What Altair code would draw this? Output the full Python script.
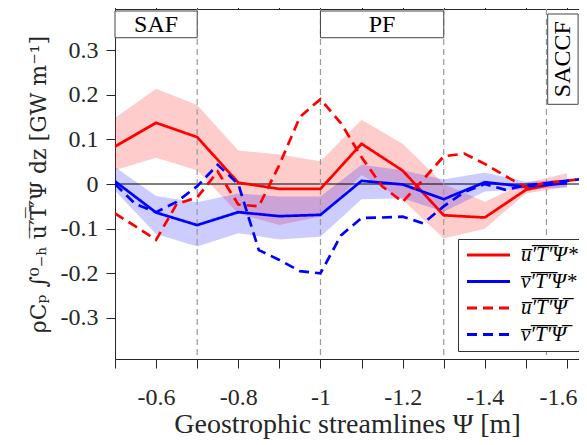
import altair as alt
import pandas as pd

# ---------------- data ----------------
psi = [-0.5, -0.6, -0.7, -0.8, -0.9, -1.0, -1.1, -1.2, -1.3, -1.4, -1.5, -1.6]
u_star = [0.084, 0.137, 0.105, 0.003, -0.011, -0.011, 0.090, 0.030, -0.070, -0.075, -0.013, 0.006]
u_star_hi = [0.148, 0.213, 0.177, 0.075, 0.066, 0.051, 0.144, 0.090, 0.000, -0.040, 0.003, 0.024]
u_star_lo = [0.031, 0.059, 0.031, -0.066, -0.092, -0.073, 0.020, -0.035, -0.122, -0.100, -0.021, -0.006]
v_star = [0.006, -0.064, -0.092, -0.063, -0.072, -0.069, 0.007, -0.001, -0.034, 0.004, -0.006, 0.002]
v_star_hi = [0.038, -0.027, -0.041, -0.021, -0.028, -0.028, 0.043, 0.031, 0.010, 0.026, 0.005, 0.010]
v_star_lo = [-0.015, -0.112, -0.140, -0.110, -0.124, -0.118, -0.034, -0.032, -0.062, -0.017, -0.012, -0.008]

psi_fine = [-0.5, -0.55, -0.6, -0.65, -0.7, -0.75, -0.8, -0.85, -0.9, -0.95, -1.0, -1.05,
            -1.1, -1.15, -1.2, -1.25, -1.3, -1.35, -1.4, -1.45, -1.5, -1.55, -1.6, -1.65]
u_bar = [-0.066, -0.095, -0.125, -0.045, -0.030, 0.028, -0.046, -0.050, 0.043, 0.150, 0.190, 0.136,
         0.060, -0.005, -0.040, 0.010, 0.062, 0.068, 0.045, 0.018, -0.008, 0.003, 0.007, 0.013]
v_bar = [0.000, -0.045, -0.063, -0.040, -0.005, 0.043, 0.000, -0.148, -0.170, -0.195, -0.200, -0.115,
         -0.076, -0.075, -0.073, -0.088, -0.050, -0.018, 0.000, -0.013, -0.003, 0.002, 0.007, 0.013]

series_names = ["u\u0305\u2032\u0305T\u0305\u2032\u0305\u03a8*",
                "v\u0305\u2032\u0305T\u0305\u2032\u0305\u03a8*",
                "u\u0305\u2032\u0305T\u0305\u2032\u0305\u03a8\u0305",
                "v\u0305\u2032\u0305T\u0305\u2032\u0305\u03a8\u0305"]
series_colors = ["#ff0000", "#0000ff", "#ff0000", "#0000ff"]
series_dashes = [[1, 0], [1, 0], [10, 6], [10, 6]]

fronts_x = [-0.7, -1.0, -1.3, -1.55]
box_names = ["SAF", "PF"]
box_x1 = [-0.5, -1.0]
box_x2 = [-0.7, -1.3]
box_y1 = [0.3873, 0.3873]
box_y2 = [0.3275, 0.3275]
saccf_name = ["SACCF"]
saccf_x1 = [-1.553]
saccf_x2 = [-1.627]
saccf_y1 = [0.3806]
saccf_y2 = [0.1784]

x_ticks = [-0.5, -0.6, -0.7, -0.8, -0.9, -1.0, -1.1, -1.2, -1.3, -1.4, -1.5, -1.6]
y_ticks = [-0.3, -0.2, -0.1, 0, 0.1, 0.2, 0.3]

# ---------------- tables ----------------
band_df = pd.DataFrame({"psi": psi, "u_hi": u_star_hi, "u_lo": u_star_lo,
                        "v_hi": v_star_hi, "v_lo": v_star_lo})
rows = []
for i, p in enumerate(psi):
    rows.append({"psi": p, "val": u_star[i], "series": series_names[0], "o": 0})
    rows.append({"psi": p, "val": v_star[i], "series": series_names[1], "o": 1})
for i, p in enumerate(psi_fine):
    rows.append({"psi": p, "val": u_bar[i], "series": series_names[2], "o": 2})
    rows.append({"psi": p, "val": v_bar[i], "series": series_names[3], "o": 3})
line_df = pd.DataFrame(rows)
fronts_df = pd.DataFrame({"psi": fronts_x})
box_df = pd.DataFrame({"name": box_names, "x1": box_x1, "x2": box_x2, "y1": box_y1, "y2": box_y2})
box_df["xc"] = (box_df["x1"] + box_df["x2"]) / 2
box_df["yc"] = (box_df["y1"] + box_df["y2"]) / 2
saccf_df = pd.DataFrame({"name": saccf_name, "x1": saccf_x1, "x2": saccf_x2, "y1": saccf_y1, "y2": saccf_y2})
saccf_df["xc"] = (saccf_df["x1"] + saccf_df["x2"]) / 2
saccf_df["yc"] = (saccf_df["y1"] + saccf_df["y2"]) / 2

FONT = "Liberation Serif"
AX = "#262626"
xscale = alt.Scale(domain=[-0.5, -1.6292], nice=False, zero=False)
yscale = alt.Scale(domain=[-0.3918, 0.3918], nice=False, zero=False)

x_main_axis = alt.Axis(values=x_ticks, grid=False, tickSize=9, tickColor=AX, domainColor=AX,
                       labelExpr="(round(abs(datum.value)*10) % 2 == 0) ? ('' + datum.value) : ''",
                       labelFont=FONT, labelFontSize=24, labelColor=AX, labelPadding=17,
                       labelOffset={"condition": {"test": "datum.value < -1.55", "value": -9}, "value": 0},
                       labelFlush=False, labelOverlap=False,
                       title="Geostrophic streamlines \u03a8 [m]", titleFont=FONT, titleFontSize=28,
                       titleFontWeight="normal", titleColor=AX, titlePadding=1)
y_main_axis = alt.Axis(values=y_ticks, grid=False, tickSize=9, tickColor=AX, domainColor=AX,
                       labelExpr="'' + datum.value",
                       labelFont=FONT, labelFontSize=24, labelColor=AX, labelPadding=8,
                       labelFlush=False, labelOverlap=False,
                       title="\u03c1C\u209a \u222b\u2070\u208b\u2095 u\u0305\u2032\u0305T\u0305\u2032\u0305\u03a8 dz  [GW m\u207b\u00b9]",
                       titleFont="DejaVu Serif", titleFontSize=22, titleFontWeight="normal", titleColor=AX,
                       titlePadding=10)
x_top_axis = alt.Axis(orient="top", values=x_ticks, grid=False, labels=False, tickSize=9,
                      tickColor=AX, domainColor=AX, title=None)

legend_props = dict(title=None, orient="none", legendX=343, legendY=230,
                    symbolType="stroke", symbolSize=1850, symbolStrokeWidth=3, symbolOffset=4,
                    labelFont=FONT, labelFontSize=21, labelFontStyle="italic",
                    labelColor="#000000", labelOffset=9, clipHeight=26,
                    strokeColor="#333333", fillColor="white", padding=3, rowPadding=0.5)

red_band = alt.Chart(band_df).mark_area(color="#ff0000", opacity=0.2, clip=True).encode(
    x=alt.X("psi:Q", scale=xscale, axis=x_main_axis),
    y=alt.Y("u_lo:Q", scale=yscale, axis=y_main_axis),
    y2="u_hi:Q",
)
blue_band = alt.Chart(band_df).mark_area(color="#0000ff", opacity=0.2, clip=True).encode(
    x=alt.X("psi:Q", scale=xscale, axis=None),
    y=alt.Y("v_lo:Q", scale=yscale, axis=None),
    y2="v_hi:Q",
)
zero_line = alt.Chart(pd.DataFrame({"z": [0]})).mark_rule(color="#000000", strokeWidth=1).encode(
    y=alt.Y("z:Q", scale=yscale, axis=None)
)
front_lines = alt.Chart(fronts_df).mark_rule(color="#999999", strokeWidth=1.2, strokeDash=[6, 4]).encode(
    x=alt.X("psi:Q", scale=xscale, axis=x_top_axis)
)
lines = alt.Chart(line_df).mark_line(strokeWidth=2.7, clip=True).encode(
    x=alt.X("psi:Q", scale=xscale, axis=None),
    y=alt.Y("val:Q", scale=yscale, axis=None),
    color=alt.Color("series:N", scale=alt.Scale(domain=series_names, range=series_colors),
                    legend=alt.Legend(**legend_props)),
    strokeDash=alt.StrokeDash("series:N", scale=alt.Scale(domain=series_names, range=series_dashes),
                              legend=alt.Legend(**legend_props)),
    order="o:Q",
    detail="series:N",
)
boxes = alt.Chart(box_df).mark_rect(fill="white", stroke="#444444", strokeWidth=1).encode(
    x=alt.X("x1:Q", scale=xscale, axis=None), x2="x2:Q",
    y=alt.Y("y1:Q", scale=yscale, axis=None), y2="y2:Q",
)
box_text = alt.Chart(box_df).mark_text(font=FONT, fontSize=24, color="#000000", baseline="middle",
                                       align="center", dy=1).encode(
    x=alt.X("xc:Q", scale=xscale, axis=None),
    y=alt.Y("yc:Q", scale=yscale, axis=None),
    text="name:N",
)
saccf_box = alt.Chart(saccf_df).mark_rect(fill="white", stroke="#444444", strokeWidth=1).encode(
    x=alt.X("x1:Q", scale=xscale, axis=None), x2="x2:Q",
    y=alt.Y("y1:Q", scale=yscale, axis=None), y2="y2:Q",
)
saccf_text = alt.Chart(saccf_df).mark_text(font=FONT, fontSize=24, color="#000000", baseline="middle",
                                           align="center", angle=270, dx=0).encode(
    x=alt.X("xc:Q", scale=xscale, axis=None),
    y=alt.Y("yc:Q", scale=yscale, axis=None),
    text="name:N",
)

chart = alt.layer(
    red_band, blue_band, zero_line, front_lines, lines, boxes, box_text, saccf_box, saccf_text
).resolve_axis(x="independent", y="independent").properties(
    width=464, height=350,
    padding={"left": 107, "top": 1, "right": 0, "bottom": 85},
    autosize=alt.AutoSizeParams(type="none"),
    background="white",
).configure_view(stroke=None)

chart.save("out.html", embed_options={"renderer": "svg", "actions": False})
